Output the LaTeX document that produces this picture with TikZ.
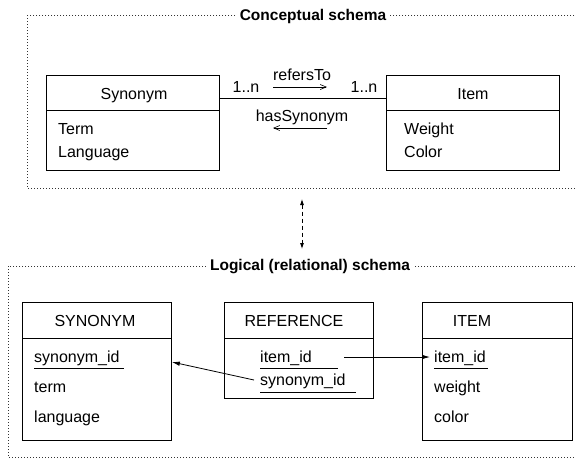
\documentclass[tikz,border=0pt]{standalone}
\usepackage{fontspec}
\setmainfont{Liberation Sans}
\usetikzlibrary{arrows.meta,calc}
\begin{document}
\begin{tikzpicture}[x=1pt,y=-1pt,
  every node/.style={font=\fontsize{16}{19}\selectfont},
  frame/.style={draw=black!80,line width=0.8pt,dash pattern=on 1pt off 2pt},
  frametitle/.style={fill=white,inner xsep=4pt,inner ysep=1pt,font=\fontsize{15.5}{18}\selectfont\bfseries},
  box/.style={draw,line width=0.9pt,anchor=north west,inner sep=0pt},
  sep/.style={line width=0.9pt},
  lbl/.style={inner sep=0pt,anchor=base west},
  ctr/.style={inner sep=0pt,anchor=base},
  uline/.style={line width=0.8pt},
  assoc/.style={-{Straight Barb[length=6pt,width=5pt]},line width=0.6pt},
  fk/.style={-{Latex[length=8pt,width=4.5pt]},line width=0.8pt},
  map/.style={{Latex[length=6pt,width=4pt]}-{Latex[length=6pt,width=4pt]},line width=0.8pt,dash pattern=on 4pt off 3pt}
]
\clip (0,0) rectangle (576,459);
\fill[white] (0,0) rectangle (576,459);

% ---------- Conceptual schema ----------
\draw[frame] (27,15) rectangle (600,188);
\node[frametitle] (ctitle) at (313,16) {Conceptual schema};

\node[box,minimum width=173pt,minimum height=95pt] (csyn) at (46,75) {};
\draw[sep] (46,110) -- (219,110);
\node[ctr] (csynname) at (134,99) {Synonym};
\node[lbl] (cterm) at (58,134.5) {Term};
\node[lbl] (clang) at (58,157.5) {Language};

\node[box,minimum width=173pt,minimum height=95pt] (citem) at (386,75) {};
\draw[sep] (386,110) -- (559,110);
\node[ctr] (citemname) at (473,99) {Item};
\node[lbl] (cweight) at (404,134.5) {Weight};
\node[lbl] (ccolor) at (404,157.5) {Color};

\coordinate (assocL) at ($(csyn.north east)+(0,23)$);
\coordinate (assocR) at ($(citem.north west)+(0,23)$);
\draw[line width=0.9pt] (assocL) -- (assocR);
\node[ctr] (mult1) at (246,92) {1..n};
\node[ctr] (mult2) at (364,92) {1..n};
\node[ctr] (refto) at (302,80.5) {refersTo};
\node[ctr] (hassyn) at (302,121.5) {hasSynonym};
\coordinate (r1) at (273,87);
\coordinate (r2) at (327,87);
\coordinate (h1) at (327,128);
\coordinate (h2) at (273,128);
\draw[assoc] (r1) -- (r2);
\draw[assoc] (h1) -- (h2);

% ---------- mapping arrow ----------
\coordinate (mtop) at (302,199);
\coordinate (mbot) at (302,249);
\draw[map] (mtop) -- (mbot);

% ---------- Logical schema ----------
\draw[frame] (8,266) rectangle (600,457);
\node[frametitle] (ltitle) at (310,267) {Logical (relational) schema};

\node[box,minimum width=149pt,minimum height=138pt] (bsyn) at (22,302) {};
\draw[sep] (22,338) -- (171,338);
\node[ctr] (bsynname) at (95,326) {SYNONYM};
\node[lbl] (sid) at (34,362) {synonym\_id};
\draw[uline] (34,368) -- (124,368);
\node[lbl] (sterm) at (34,392) {term};
\node[lbl] (slang) at (34,422) {language};

\node[box,minimum width=149pt,minimum height=96pt] (bref) at (224,302) {};
\draw[sep] (224,338) -- (373,338);
\node[ctr] (brefname) at (294,326) {REFERENCE};
\node[lbl] (rid) at (260,362) {item\_id};
\draw[uline] (260,368) -- (338,368);
\node[lbl] (rsid) at (260,385.5) {synonym\_id};
\draw[uline] (260,392) -- (356,392);

\node[box,minimum width=150pt,minimum height=138pt] (bitem) at (422,302) {};
\draw[sep] (422,338) -- (572,338);
\node[ctr] (bitemname) at (472,326) {ITEM};
\node[lbl] (iid) at (434,362) {item\_id};
\draw[uline] (434,368) -- (488,368);
\node[lbl] (iweight) at (434,392) {weight};
\node[lbl] (icolor) at (434,422) {color};

\coordinate (fk1s) at (344,357);
\coordinate (fk1t) at ($(iid.west |- 0,357)+(-4,0)$);
\draw[fk] (fk1s) -- (fk1t);
\coordinate (fk2s) at (254,380);
\coordinate (fk2t) at (bsyn.east |- 0,362);
\draw[fk] (fk2s) -- (fk2t);
\end{tikzpicture}
\end{document}
